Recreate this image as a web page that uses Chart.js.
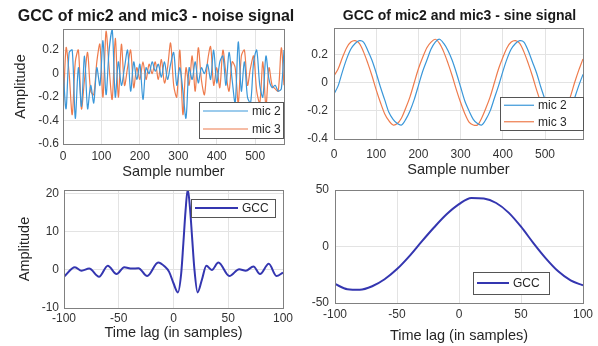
<!DOCTYPE html>
<html>
<head>
<meta charset="utf-8">
<script src="https://cdn.jsdelivr.net/npm/chart.js@4.4.0/dist/chart.umd.min.js"></script>
<style>
  html, body { margin: 0; padding: 0; background: #fff; }
  #page { position: relative; width: 598px; height: 346px; overflow: hidden; }
  #page canvas { position: absolute; left: 0; top: 0; }
</style>
</head>
<body>
<div id="page">
  <canvas id="noiseSignal" width="598" height="346"></canvas>
  <canvas id="sineSignal" width="598" height="346"></canvas>
  <canvas id="noiseGcc" width="598" height="346"></canvas>
  <canvas id="sineGcc" width="598" height="346"></canvas>
</div>
<script>
// Data
const noiseSamples = [
  0, 8, 16, 24, 32, 40, 48, 56, 64, 72, 80, 88, 96, 104, 112, 120, 128, 136, 144, 152,
  160, 168, 176, 184, 192, 200, 208, 216, 224, 232, 240, 248, 256, 264, 272, 280, 288, 296, 304, 312,
  320, 328, 336, 344, 352, 360, 368, 376, 384, 392, 400, 408, 416, 424, 432, 440, 448, 456, 464, 472,
  480, 488, 496, 504, 512, 520, 528, 536, 544, 552, 560, 568, 575,
]
const mic2Noise = [
  0.05, -0.3, 0.18, 0.2, -0.38, 0.05, -0.28, 0.15, -0.3, -0.1, -0.25, 0.05, -0.1, 0.28, -0.18, 0.2, 0.38, -0.2, 0.1, -0.1,
  0.05, 0.2, -0.15, 0.1, -0.05, 0.08, -0.22, 0.05, 0.0, 0.1, 0.02, 0.08, -0.03, 0.1, -0.05, 0.08, 0.18, -0.1, 0.05, -0.15,
  -0.38, 0.05, -0.05, 0.1, -0.08, 0.05, 0.0, 0.08, -0.05, 0.2, -0.08, 0.1, 0.15, -0.1, 0.18, -0.05, -0.25, 0.27, -0.15, 0.1,
  -0.2, -0.25, 0.1, 0.2, -0.1, -0.2, 0.15, -0.05, -0.12, -0.1, -0.15, -0.13, 0.2,
]
const mic3Noise = [
  -0.4, 0.22, 0.0, -0.35, 0.1, 0.2, -0.3, -0.05, 0.18, -0.15, -0.18, 0.1, 0.25, -0.2, 0.36, 0.05, -0.22, 0.3, -0.2, 0.25,
  -0.1, 0.05, 0.2, -0.12, 0.05, -0.05, 0.1, -0.05, 0.08, 0.0, 0.1, -0.05, 0.12, -0.08, 0.05, 0.26, -0.1, -0.2, 0.2, -0.35,
  0.05, -0.1, 0.15, -0.15, 0.22, -0.05, -0.18, 0.1, 0.23, -0.1, 0.05, -0.12, 0.2, 0.0, -0.15, 0.1, 0.05, -0.25, 0.15, 0.2,
  -0.1, 0.05, 0.15, -0.15, -0.25, 0.1, -0.28, 0.05, -0.1, -0.13, -0.15, 0.22, -0.1,
]
const noiseXTicks = [0, 100, 200, 300, 400, 500]
const noiseYTicks = [-0.6, -0.4, -0.2, 0, 0.2]

const sineSamples = [
  0, 10, 20, 30, 40, 50, 60, 70, 80, 90, 100, 110, 120, 130, 140, 150, 160, 170, 180, 190,
  200, 210, 220, 230, 240, 250, 260, 270, 280, 290, 300, 310, 320, 330, 340, 350, 360, 370, 380, 390,
  400, 410, 420, 430, 440, 450, 460, 470, 480, 490, 500, 510, 520, 530, 540, 550, 560, 570, 580, 590,
]
const mic2Sine = [
  -0.08, -0.02, 0.08, 0.17, 0.24, 0.28, 0.30, 0.29, 0.23, 0.16,
  0.07, -0.03, -0.12, -0.21, -0.26, -0.29, -0.30, -0.26, -0.20, -0.12,
  -0.02, 0.08, 0.16, 0.24, 0.29, 0.31, 0.28, 0.23, 0.16, 0.07,
  -0.03, -0.13, -0.20, -0.26, -0.29, -0.30, -0.26, -0.20, -0.11, -0.02,
  0.08, 0.17, 0.24, 0.28, 0.30, 0.29, 0.23, 0.15, 0.07, -0.03,
  -0.12, -0.21, -0.26, -0.30, -0.29, -0.26, -0.20, -0.11, -0.02, 0.06,
]
const mic3Sine = [
  0.05, 0.10, 0.18, 0.25, 0.29, 0.30, 0.28, 0.22, 0.14, 0.05,
  -0.05, -0.14, -0.22, -0.27, -0.30, -0.29, -0.25, -0.18, -0.10, 0.00,
  0.10, 0.18, 0.25, 0.29, 0.31, 0.28, 0.22, 0.14, 0.05, -0.05,
  -0.14, -0.22, -0.28, -0.30, -0.30, -0.25, -0.18, -0.10, 0.00, 0.10,
  0.18, 0.25, 0.29, 0.30, 0.28, 0.22, 0.14, 0.05, -0.05, -0.14,
  -0.22, -0.28, -0.30, -0.29, -0.25, -0.18, -0.10, 0.00, 0.09, 0.17,
]
const sineXTicks = [0, 100, 200, 300, 400, 500]
const sineYTicks = [-0.4, -0.2, 0, 0.2]

const noiseLags = [
  -100, -90, -84, -77, -68, -60, -52, -45, -38, -32, -24, -14, -8, -4, 0, 4, 7, 9,
  11, 13, 15, 17, 19, 22, 26, 30, 35, 41, 51, 60, 66, 73, 79, 87, 94, 100,
]
const noiseGcc = [
  -1.8, 0.7, -0.2, 0.35, -1.8, 1.1, -1.1, 0.7, 0.35, 0.45, -1.6, 1.95, 0.9, -0.5, -3.5, -5.9, -1.0, 7.0,
  15.5, 21.2, 16.5, 8.5, 0.5, -5.9, -2.5, 1.1, 0.0, 1.95, -1.6, 0.2, -0.2, 0.9, -1.1, 1.6, -1.6, -0.7,
]
const noiseGccYTicks = [-10, 0, 10, 20]

const sineLags = [-100, -90, -80, -70, -60, -50, -40, -30, -20, -10, 0, 10, 20, 30, 40, 50, 60, 70, 80, 90, 100]
const sineGcc = [
  -33.2, -37.8, -38.3, -35.2, -29, -20, -8.5, 4.5, 17, 28.5, 37.5,
  43, 42.5, 38.5, 30, 17.5, 3, -10.5, -22, -30, -34.4,
]
const sineGccYTicks = [-50, 0, 50]
const lagTicks = [-100, -50, 0, 50, 100]

const mic2Color = "#3a97d9"
const mic3Color = "#ee7b4c"
const gccColor = "#3436b0"
const textColor = "#262626"
const tickColor = "#333333"
const gridColor = "#e3e3e3"
const fontFamily = "'Liberation Sans', Arial, sans-serif"

function toPoints(xs, ys) {
  const n = Math.min(xs.length, ys.length)
  const pts = []
  for (let i = 0; i < n; i++) pts.push({ x: xs[i], y: ys[i] })
  return pts
}

// box around the axes, title and legend like matlab draws them
const panelDecor = {
  id: "panelDecor",
  afterDatasetsDraw(chart) {
    const { ctx, chartArea: a } = chart
    ctx.save()
    ctx.strokeStyle = "#808080"
    ctx.lineWidth = 1
    ctx.strokeRect(Math.round(a.left) + 0.5, Math.round(a.top) + 0.5, Math.round(a.right - a.left), Math.round(a.bottom - a.top))
    ctx.restore()
  },
  afterDraw(chart, args, opts) {
    const ctx = chart.ctx
    ctx.save()
    if (opts.title) {
      ctx.fillStyle = "#1a1a1a"
      ctx.font = "bold " + opts.titleSize + "px " + fontFamily
      ctx.textAlign = "center"
      ctx.textBaseline = "middle"
      ctx.fillText(opts.title, opts.titleX, opts.titleY)
    }
    const lg = opts.legend
    if (lg) {
      ctx.fillStyle = "#ffffff"
      ctx.fillRect(lg.x, lg.y, lg.w, lg.h)
      ctx.strokeStyle = "#555555"
      ctx.lineWidth = 1
      ctx.strokeRect(lg.x + 0.5, lg.y + 0.5, lg.w, lg.h)
      const sets = chart.data.datasets
      sets.forEach((ds, i) => {
        const y = lg.y + (lg.h * (i + 0.5)) / sets.length
        ctx.strokeStyle = ds.borderColor
        ctx.lineWidth = ds.borderWidth
        ctx.beginPath()
        ctx.moveTo(lg.x + 4, y)
        ctx.lineTo(lg.x + 4 + lg.lineLen, y)
        ctx.stroke()
        ctx.fillStyle = textColor
        ctx.font = "12px " + fontFamily
        ctx.textAlign = "left"
        ctx.textBaseline = "middle"
        ctx.fillText(ds.label, lg.x + 8 + lg.lineLen, y + 0.5)
      })
    }
    ctx.restore()
  },
}

function xAxis(min, max, tickValues, height, tickPad, label) {
  return {
    type: "linear",
    min: min,
    max: max,
    afterFit: (s) => { s.height = height },
    afterBuildTicks: (s) => { s.ticks = tickValues.map((v) => ({ value: v })) },
    ticks: {
      autoSkip: false,
      maxRotation: 0,
      padding: tickPad,
      color: tickColor,
      font: { family: fontFamily, size: 12 },
      callback: (v) => String(v),
    },
    grid: { color: gridColor, drawTicks: false },
    border: { display: false },
    title: { display: true, text: label, color: textColor, padding: 0, font: { family: fontFamily, size: 14.5 } },
  }
}

function yAxis(min, max, tickValues, width, tickPad, label) {
  return {
    min: min,
    max: max,
    afterFit: (s) => { s.width = width },
    afterBuildTicks: (s) => { s.ticks = tickValues.map((v) => ({ value: v })) },
    ticks: {
      padding: tickPad,
      color: tickColor,
      font: { family: fontFamily, size: 12 },
      callback: (v) => String(v),
    },
    grid: { color: gridColor, drawTicks: false },
    border: { display: false },
    title: { display: !!label, text: label || "", color: textColor, padding: 0, font: { family: fontFamily, size: 14.5 } },
  }
}

function lineSet(label, xs, ys, color, width, smooth) {
  return {
    label: label,
    data: toPoints(xs, ys),
    borderColor: color,
    backgroundColor: color,
    borderWidth: width,
    pointRadius: 0,
    tension: smooth === "monotone" ? 0 : smooth,
    cubicInterpolationMode: smooth === "monotone" ? "monotone" : "default",
    fill: false,
  }
}

function makeChart(id, datasets, scales, padding, decor) {
  return new Chart(document.getElementById(id), {
    type: "line",
    data: { datasets: datasets },
    plugins: [panelDecor],
    options: {
      responsive: false,
      animation: false,
      devicePixelRatio: 1,
      layout: { padding: padding },
      scales: scales,
      plugins: {
        legend: { display: false },
        tooltip: { enabled: false },
        panelDecor: decor,
      },
    },
  })
}

// Top left: noise signal
makeChart(
  "noiseSignal",
  [
    lineSet("mic 2", noiseSamples, mic2Noise, mic2Color, 1.2, 0.3),
    lineSet("mic 3", noiseSamples, mic3Noise, mic3Color, 1.2, 0.3),
  ],
  {
    x: xAxis(0, 575, noiseXTicks, 36.7, 5, "Sample number"),
    y: yAxis(-0.6, 0.38, noiseYTicks, 50.7, 4, "Amplitude"),
  },
  { left: 12.3, right: 314, top: 29, bottom: 165.3 },
  {
    title: "GCC of mic2 and mic3 - noise signal", titleSize: 16, titleX: 156, titleY: 16.5,
    legend: { x: 199, y: 102, w: 84, h: 36, lineLen: 45 },
  }
)

// Top right: sine signal
makeChart(
  "sineSignal",
  [
    lineSet("mic 2", sineSamples, mic2Sine, mic2Color, 1.2, 0.3),
    lineSet("mic 3", sineSamples, mic3Sine, mic3Color, 1.2, 0.3),
  ],
  {
    x: xAxis(0, 590, sineXTicks, 39.7, 8, "Sample number"),
    y: yAxis(-0.4, 0.39, sineYTicks, 30, 6, null),
  },
  { left: 304, right: 15, top: 28, bottom: 167.3 },
  {
    title: "GCC of mic2 and mic3 - sine signal", titleSize: 14, titleX: 459.5, titleY: 16.5,
    legend: { x: 500, y: 97, w: 83, h: 33, lineLen: 30 },
  }
)

// Bottom left: GCC of the noise signal
makeChart(
  "noiseGcc",
  [lineSet("GCC", noiseLags, noiseGcc, gccColor, 2, "monotone")],
  {
    x: xAxis(-100, 100, lagTicks, 33.7, 3, "Time lag (in samples)"),
    y: yAxis(-10, 21, noiseGccYTicks, 47.7, 5, "Amplitude"),
  },
  { left: 16.3, right: 315, top: 190, bottom: 4.3 },
  { legend: { x: 191, y: 199, w: 84, h: 18, lineLen: 43 } }
)

// Bottom right: GCC of the sine signal
makeChart(
  "sineGcc",
  [lineSet("GCC", sineLags, sineGcc, gccColor, 2, "monotone")],
  {
    x: xAxis(-100, 100, lagTicks, 41.7, 4, "Time lag (in samples)"),
    y: yAxis(-50, 50, sineGccYTicks, 30, 6, null),
  },
  { left: 305, right: 15, top: 190, bottom: 1.3 },
  { legend: { x: 473, y: 272, w: 76, h: 22, lineLen: 32 } }
)
</script>
</body>
</html>
